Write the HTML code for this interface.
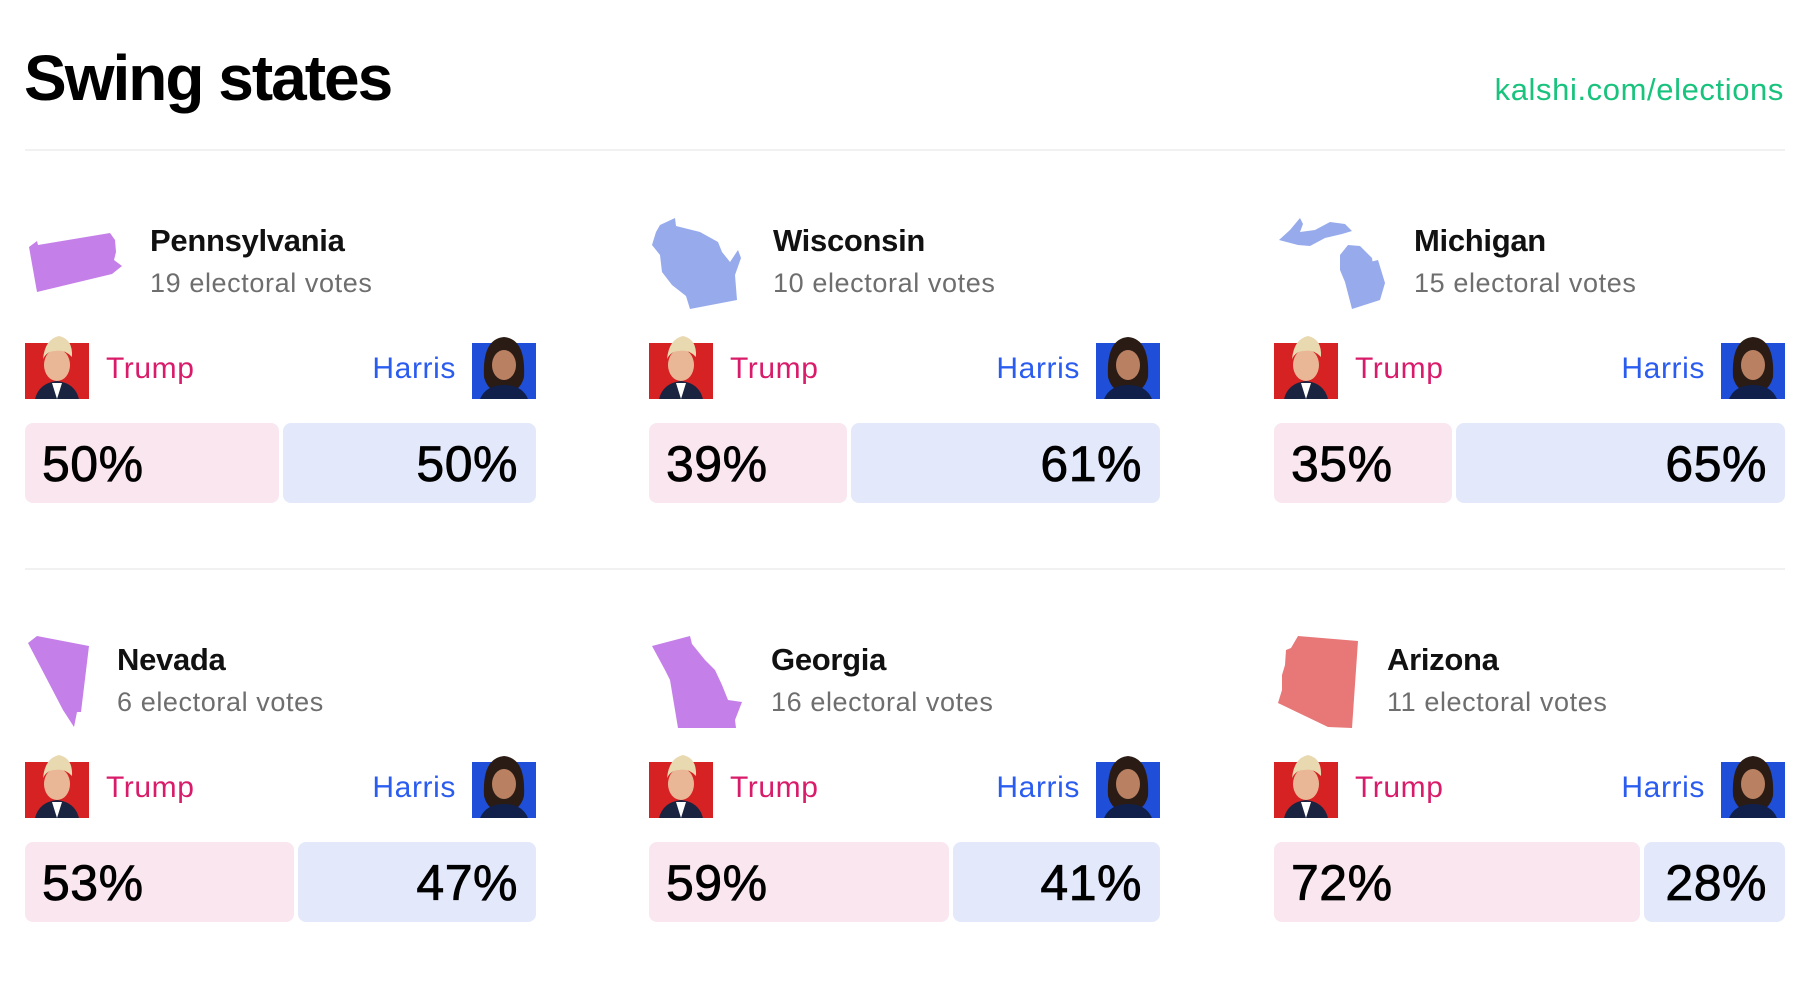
<!DOCTYPE html>
<html><head><meta charset="utf-8"><style>
body{margin:0;width:1796px;height:986px;background:#fff;position:relative;overflow:hidden;font-family:"Liberation Sans",sans-serif;}
.a{position:absolute;white-space:nowrap;line-height:1;}
.title{left:24px;top:46px;font-size:64px;font-weight:700;color:#000;letter-spacing:-2px}
.k{right:12px;top:74px;font-size:31px;color:#19c37d;letter-spacing:0.6px}
.hr{position:absolute;left:25px;right:11px;height:2px;background:#f1f1f1}
.nm{font-size:31px;font-weight:700;color:#111;letter-spacing:-0.3px}
.ev{font-size:27px;color:#6e6e6e;letter-spacing:0.6px}
.tr{font-size:30px;color:#d81b6a;letter-spacing:0.6px}
.ha{font-size:30px;color:#2b5cf0;text-align:right;letter-spacing:0.6px}
.bar{position:absolute;height:80px;border-radius:8px}
.pk{background:#fae6ef}.bl{background:#e3e9fb}
.pct{font-size:50px;color:#000;-webkit-text-stroke:0.8px #000;letter-spacing:0.5px}
</style></head><body>
<div class="a title">Swing states</div>
<div class="a k">kalshi.com/elections</div>
<div class="hr" style="top:149px"></div>
<div class="hr" style="top:568px"></div>

<svg width="1796" height="986" style="position:absolute;left:0;top:0">
<defs>
<g id="trump"><rect x="0" y="0" width="64" height="56" fill="#d62222"/><path d="M10 56 Q14 40 32 38 Q50 40 54 56Z" fill="#1a2440"/><path d="M27 40 L32 56 L37 40Z" fill="#fff"/><ellipse cx="32" cy="22" rx="13" ry="16" fill="#eab796"/><path d="M18 16 Q20 -4 34 -7 Q48 -4 47 14 Q40 6 30 8 Q22 8 18 16Z" fill="#e8d9b0"/></g>
<g id="harris"><rect x="0" y="0" width="64" height="56" fill="#1f4fd8"/><path d="M12 34 Q10 -4 32 -6 Q54 -4 52 34 Q48 50 32 50 Q16 50 12 34Z" fill="#2a1c14"/><path d="M8 56 Q14 42 32 42 Q50 42 56 56Z" fill="#10204a"/><ellipse cx="32" cy="22" rx="12" ry="15" fill="#b98062"/></g>
</defs>
<g fill="#c57fe8">
<polygon points="29,247 37,241 38,245 110,233 115,240 116,252 114,260 122,266 112,274 37,292"/>
<polygon points="37,636 89,646 81,712 77,712 74,727 63,710 28,643"/>
<polygon points="652,646 690,636 692,644 705,660 715,670 722,685 728,700 742,702 735,720 736,728 678,728 675,710 670,680 665,670"/>
</g>
<g fill="#96aaec">
<polygon points="660,225 675,218 676,226 700,232 718,242 722,252 730,262 738,250 741,258 735,275 737,300 690,309 686,296 672,285 662,272 660,255 652,245 656,232"/>
<polygon points="1279,240 1290,230 1300,218 1303,224 1300,232 1315,230 1330,222 1345,224 1352,231 1342,234 1325,238 1310,246 1298,245"/>
<polygon points="1340,255 1348,245 1360,246 1372,258 1375,280 1370,262 1378,260 1385,283 1380,300 1352,309 1345,282 1340,270"/>
</g>
<polygon fill="#e87878" points="1298,636 1358,641 1352,728 1328,727 1278,703 1282,690 1282,675 1285,665 1286,650 1291,648"/>
<use href="#trump" x="25" y="343"/><use href="#harris" x="472" y="343"/>
<use href="#trump" x="649" y="343"/><use href="#harris" x="1096" y="343"/>
<use href="#trump" x="1274" y="343"/><use href="#harris" x="1721" y="343"/>
<use href="#trump" x="25" y="762"/><use href="#harris" x="472" y="762"/>
<use href="#trump" x="649" y="762"/><use href="#harris" x="1096" y="762"/>
<use href="#trump" x="1274" y="762"/><use href="#harris" x="1721" y="762"/>
</svg>

<!-- Row 1 -->
<div class="a nm" style="left:150px;top:225px">Pennsylvania</div>
<div class="a ev" style="left:150px;top:270px">19 electoral votes</div>
<div class="a nm" style="left:773px;top:225px">Wisconsin</div>
<div class="a ev" style="left:773px;top:270px">10 electoral votes</div>
<div class="a nm" style="left:1414px;top:225px">Michigan</div>
<div class="a ev" style="left:1414px;top:270px">15 electoral votes</div>

<div class="a tr" style="left:106px;top:354px">Trump</div>
<div class="a ha" style="right:1340px;top:354px">Harris</div>
<div class="a tr" style="left:730px;top:354px">Trump</div>
<div class="a ha" style="right:716px;top:354px">Harris</div>
<div class="a tr" style="left:1355px;top:354px">Trump</div>
<div class="a ha" style="right:91px;top:354px">Harris</div>

<div class="bar pk" style="left:25px;top:423px;width:254px"></div>
<div class="bar bl" style="left:283px;top:423px;width:253px"></div>
<div class="a pct" style="left:42px;top:439px">50%</div>
<div class="a pct" style="right:1278px;top:439px">50%</div>

<div class="bar pk" style="left:649px;top:423px;width:198px"></div>
<div class="bar bl" style="left:851px;top:423px;width:309px"></div>
<div class="a pct" style="left:666px;top:439px">39%</div>
<div class="a pct" style="right:654px;top:439px">61%</div>

<div class="bar pk" style="left:1274px;top:423px;width:178px"></div>
<div class="bar bl" style="left:1456px;top:423px;width:329px"></div>
<div class="a pct" style="left:1291px;top:439px">35%</div>
<div class="a pct" style="right:29px;top:439px">65%</div>

<!-- Row 2 -->
<div class="a nm" style="left:117px;top:644px">Nevada</div>
<div class="a ev" style="left:117px;top:689px">6 electoral votes</div>
<div class="a nm" style="left:771px;top:644px">Georgia</div>
<div class="a ev" style="left:771px;top:689px">16 electoral votes</div>
<div class="a nm" style="left:1387px;top:644px">Arizona</div>
<div class="a ev" style="left:1387px;top:689px">11 electoral votes</div>

<div class="a tr" style="left:106px;top:773px">Trump</div>
<div class="a ha" style="right:1340px;top:773px">Harris</div>
<div class="a tr" style="left:730px;top:773px">Trump</div>
<div class="a ha" style="right:716px;top:773px">Harris</div>
<div class="a tr" style="left:1355px;top:773px">Trump</div>
<div class="a ha" style="right:91px;top:773px">Harris</div>

<div class="bar pk" style="left:25px;top:842px;width:269px"></div>
<div class="bar bl" style="left:298px;top:842px;width:238px"></div>
<div class="a pct" style="left:42px;top:858px">53%</div>
<div class="a pct" style="right:1278px;top:858px">47%</div>

<div class="bar pk" style="left:649px;top:842px;width:300px"></div>
<div class="bar bl" style="left:953px;top:842px;width:207px"></div>
<div class="a pct" style="left:666px;top:858px">59%</div>
<div class="a pct" style="right:654px;top:858px">41%</div>

<div class="bar pk" style="left:1274px;top:842px;width:366px"></div>
<div class="bar bl" style="left:1644px;top:842px;width:141px"></div>
<div class="a pct" style="left:1291px;top:858px">72%</div>
<div class="a pct" style="right:29px;top:858px">28%</div>
</body></html>
